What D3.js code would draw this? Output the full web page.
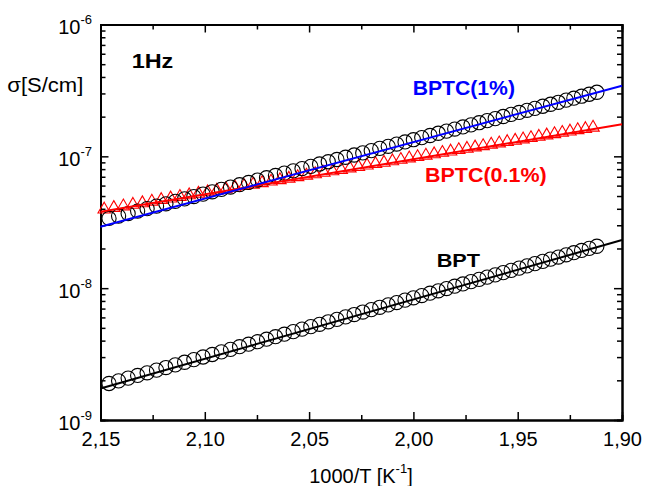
<!DOCTYPE html>
<html><head><meta charset="utf-8">
<script src="https://cdn.jsdelivr.net/npm/d3@7"></script>
<style>
html,body{margin:0;padding:0;background:#fff;}
svg{display:block;font-family:"Liberation Sans",Arial,sans-serif;}
</style></head>
<body><svg id="c" width="646" height="486"></svg>
<script>
// ---- data (1000/T in K^-1, log10 of conductivity in S/cm) ----
const circX = [2.14592,2.14133,2.13675,2.13220,2.12766,2.12314,2.11864,2.11416,2.10970,2.10526,
2.10084,2.09644,2.09205,2.08768,2.08333,2.07900,2.07469,2.07039,2.06612,2.06186,
2.05761,2.05339,2.04918,2.04499,2.04082,2.03666,2.03252,2.02840,2.02429,2.02020,
2.01613,2.01207,2.00803,2.00401,2.00000,1.99601,1.99203,1.98807,1.98413,1.98020,
1.97628,1.97239,1.96850,1.96464,1.96078,1.95695,1.95313,1.94932,1.94553,1.94175,
1.93798,1.93424,1.93050,1.92678,1.92308,1.91939,1.91571,1.91205];
const triX = [2.14823,2.14362,2.13904,2.13447,2.12993,2.12540,2.12089,2.11640,2.11193,2.10748,
2.10305,2.09864,2.09424,2.08986,2.08551,2.08117,2.07684,2.07254,2.06825,2.06398,
2.05973,2.05550,2.05128,2.04708,2.04290,2.03874,2.03459,2.03046,2.02634,2.02224,
2.01816,2.01410,2.01005,2.00602,2.00200,1.99800,1.99402,1.99005,1.98610,1.98216,
1.97824,1.97433,1.97044,1.96657,1.96271,1.95886,1.95503,1.95122,1.94742,1.94363,
1.93986,1.93611,1.93237,1.92864,1.92493,1.92123,1.91755,1.91388];
const log10SigmaBPT = [-8.723,-8.703,-8.682,-8.662,-8.642,-8.622,-8.602,-8.582,-8.562,-8.542,
-8.522,-8.503,-8.483,-8.464,-8.444,-8.425,-8.406,-8.387,-8.368,-8.349,
-8.330,-8.311,-8.292,-8.274,-8.255,-8.237,-8.218,-8.200,-8.181,-8.163,
-8.145,-8.127,-8.109,-8.091,-8.073,-8.056,-8.038,-8.020,-8.003,-7.985,
-7.968,-7.950,-7.933,-7.916,-7.899,-7.882,-7.865,-7.848,-7.831,-7.814,
-7.797,-7.780,-7.764,-7.747,-7.731,-7.714,-7.698,-7.682];
const log10SigmaBPTC1 = [-7.471,-7.453,-7.434,-7.415,-7.397,-7.378,-7.360,-7.342,-7.323,-7.305,
-7.287,-7.269,-7.251,-7.233,-7.215,-7.198,-7.180,-7.162,-7.145,-7.127,
-7.110,-7.093,-7.076,-7.058,-7.041,-7.024,-7.007,-6.990,-6.974,-6.957,
-6.940,-6.924,-6.907,-6.891,-6.874,-6.858,-6.842,-6.825,-6.809,-6.793,
-6.777,-6.761,-6.745,-6.729,-6.714,-6.698,-6.682,-6.667,-6.651,-6.636,
-6.620,-6.605,-6.590,-6.574,-6.559,-6.544,-6.529,-6.514];
const log10SigmaBPTC01 = [-7.392,-7.380,-7.368,-7.356,-7.344,-7.332,-7.320,-7.308,-7.296,-7.284,
-7.272,-7.261,-7.249,-7.237,-7.226,-7.214,-7.203,-7.192,-7.180,-7.169,
-7.158,-7.146,-7.135,-7.124,-7.113,-7.102,-7.091,-7.080,-7.069,-7.058,
-7.047,-7.037,-7.026,-7.015,-7.004,-6.994,-6.983,-6.973,-6.962,-6.952,
-6.941,-6.931,-6.921,-6.911,-6.900,-6.890,-6.880,-6.870,-6.860,-6.850,
-6.840,-6.830,-6.820,-6.810,-6.800,-6.790,-6.781,-6.771];
// linear fits (end points)
const fitX = [2.15, 1.90];
const fitBPT = [-8.761, -7.635];
const fitBPTC1 = [-7.534, -6.464];
const fitBPTC01 = [-7.420, -6.757];
// ticks
const xMajor = [2.15, 2.10, 2.05, 2.00, 1.95, 1.90];
const xTickLabels = ["2,15","2,10","2,05","2,00","1,95","1,90"];
const xMinor = [2.125, 2.075, 2.025, 1.975, 1.925];
const yExps = [-9, -8, -7, -6];
const yMantissas = [2,3,4,5,6,7,8,9];

// ---- drawing ----
const svg = d3.select("#c");
const L = 100.5, R = 622, T = 24.5, B = 420;
const x = d3.scaleLinear().domain([2.15, 1.90]).range([L, R]);
const y = d3.scaleLog().domain([1e-9, 1e-6]).range([B, T]);
const yMajor = yExps.map(e => Math.pow(10, e));
const yMinor = [];
yExps.slice(0, 3).forEach(e => yMantissas.forEach(m => yMinor.push(m * Math.pow(10, e))));

function styleAxis(g, w) {
  g.select(".domain").attr("stroke", "#000").attr("stroke-width", 2);
  g.selectAll(".tick line").attr("stroke", "#000").attr("stroke-width", w);
}
// bottom
const gB = svg.append("g").attr("transform", `translate(0,${B})`)
  .call(d3.axisBottom(x).tickValues(xMajor).tickSizeInner(-8).tickSizeOuter(0).tickPadding(11.5)
    .tickFormat((d, i) => xTickLabels[i]));
styleAxis(gB, 1.5);
gB.selectAll("text").attr("font-size", 20).attr("fill", "#000").attr("font-family", "Liberation Sans, Arial, sans-serif");
const gBm = svg.append("g").attr("transform", `translate(0,${B})`)
  .call(d3.axisBottom(x).tickValues(xMinor).tickSize(-5).tickFormat(""));
styleAxis(gBm, 1.5);
// top
const gT = svg.append("g").attr("transform", `translate(0,${T})`)
  .call(d3.axisTop(x).tickValues(xMajor).tickSizeInner(-8).tickSizeOuter(0).tickFormat(""));
styleAxis(gT, 1.5);
const gTm = svg.append("g").attr("transform", `translate(0,${T})`)
  .call(d3.axisTop(x).tickValues(xMinor).tickSize(-5).tickFormat(""));
styleAxis(gTm, 1.5);
// left
const gL = svg.append("g").attr("transform", `translate(${L},0)`)
  .call(d3.axisLeft(y).tickValues(yMajor).tickSizeInner(-8).tickSizeOuter(0).tickFormat(""));
styleAxis(gL, 1.5);
const gLm = svg.append("g").attr("transform", `translate(${L},0)`)
  .call(d3.axisLeft(y).tickValues(yMinor).tickSize(-5).tickFormat(""));
styleAxis(gLm, 1.5);
// right
const gR = svg.append("g").attr("transform", `translate(${R},0)`)
  .call(d3.axisRight(y).tickValues(yMajor).tickSizeInner(-8).tickSizeOuter(0).tickFormat(""));
styleAxis(gR, 1.5);
const gRm = svg.append("g").attr("transform", `translate(${R},0)`)
  .call(d3.axisRight(y).tickValues(yMinor).tickSize(-5).tickFormat(""));
styleAxis(gRm, 1.5);

// y tick labels 10^n
const yl = svg.append("g");
yExps.forEach(e => {
  const t = yl.append("text").attr("x", 92).attr("y", y(Math.pow(10, e)) + 9.5)
    .attr("text-anchor", "end").attr("font-size", 20).attr("fill", "#000");
  t.append("tspan").text("10");
  t.append("tspan").attr("dy", -10).attr("font-size", 13).text(String(e));
});

// data series
const toPts = (xs, ls) => xs.map((v, i) => [v, Math.pow(10, ls[i])]);
const ptsBPT = toPts(circX, log10SigmaBPT);
const ptsC1 = toPts(circX, log10SigmaBPTC1);
const ptsC01 = toPts(triX, log10SigmaBPTC01);

const tri = "M0,-5.8L6.2,5L-6.2,5Z";
svg.append("g").selectAll("path").data(ptsC01).join("path")
  .attr("d", tri).attr("transform", d => `translate(${x(d[0])},${y(d[1])})`)
  .attr("fill", "none").attr("stroke", "#ff0000").attr("stroke-width", 1.1);
svg.append("g").selectAll("circle").data(ptsBPT).join("circle")
  .attr("cx", d => x(d[0])).attr("cy", d => y(d[1])).attr("r", 7.1)
  .attr("fill", "none").attr("stroke", "#000").attr("stroke-width", 1.1);
svg.append("g").selectAll("circle").data(ptsC1).join("circle")
  .attr("cx", d => x(d[0])).attr("cy", d => y(d[1])).attr("r", 7.1)
  .attr("fill", "none").attr("stroke", "#000").attr("stroke-width", 1.1);

// fit lines
const line = d3.line().x(d => x(d[0])).y(d => y(d[1]));
[[fitBPT, "#000"], [fitBPTC01, "#ff0000"], [fitBPTC1, "#0000ff"]].forEach(([f, c]) => {
  svg.append("path").datum(toPts(fitX, f)).attr("d", line)
    .attr("fill", "none").attr("stroke", c).attr("stroke-width", 2);
});

// labels
function lab(txt, x0, y0, w, color, fs) {
  svg.append("text").attr("x", x0).attr("y", y0).attr("font-size", fs).attr("font-weight", "bold")
    .attr("fill", color).attr("textLength", w).attr("lengthAdjust", "spacingAndGlyphs").text(txt);
}
lab("1Hz", 131.7, 68.3, 41.6, "#000", 21);
lab("BPTC(1%)", 412.7, 95, 102.3, "#0000ff", 20);
lab("BPTC(0.1%)", 425, 181.5, 121.7, "#ff0000", 20);
lab("BPT", 436.7, 267, 43.3, "#000", 19);

// axis titles
svg.append("text").attr("x", 7.3).attr("y", 91.5).attr("font-size", 20).attr("fill", "#000")
  .attr("textLength", 76).attr("lengthAdjust", "spacingAndGlyphs").text("σ[S/cm]");
const xt = svg.append("text").attr("x", 361).attr("y", 482.5).attr("text-anchor", "middle")
  .attr("font-size", 20).attr("fill", "#000");
xt.append("tspan").text("1000/T [K");
xt.append("tspan").attr("dy", -10).attr("font-size", 13).text("-1");
xt.append("tspan").attr("dy", 10).text("]");
</script></body></html>
